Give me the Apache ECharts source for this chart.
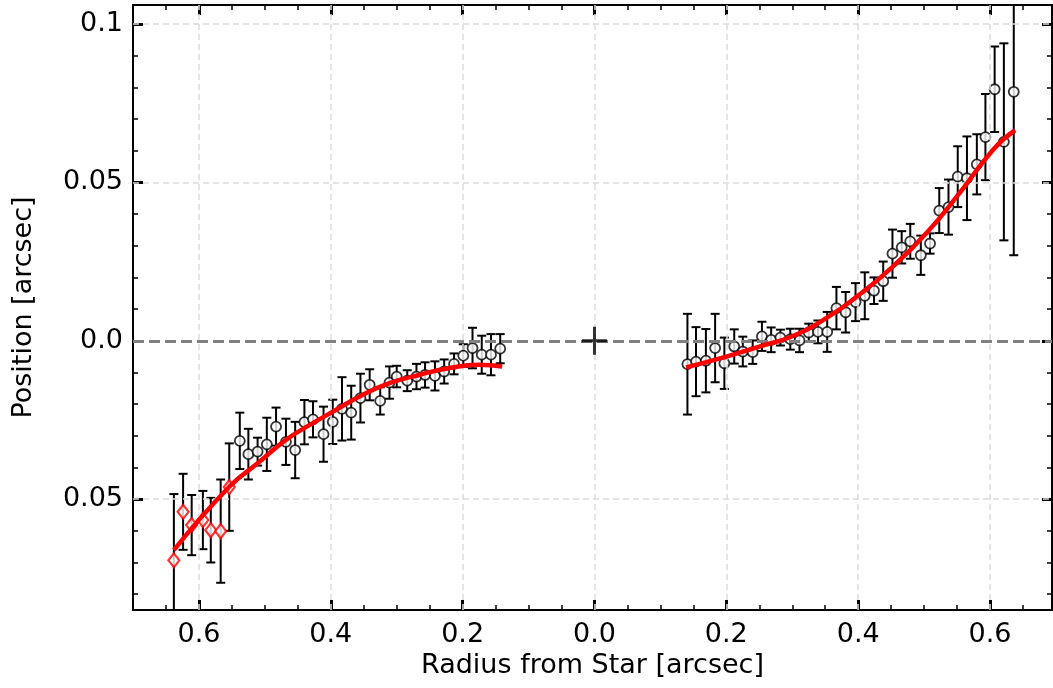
<!DOCTYPE html>
<html>
<head>
<meta charset="utf-8">
<script src="https://cdn.jsdelivr.net/npm/echarts@6/dist/echarts.min.js"></script>
<style>
  html, body { margin: 0; padding: 0; background: #fff; }
  #chart { width: 1053px; height: 688px; }
</style>
</head>
<body>
<div id="chart"></div>
<script>
// 左侧（负半轴）红色菱形点
var leftRedX = [-0.638, -0.624, -0.611, -0.594, -0.582, -0.567, -0.554];
var leftRedY = [-0.0693, -0.0540, -0.0582, -0.0566, -0.0598, -0.0601, -0.0462];
var leftRedErr = [0.0209, 0.0120, 0.0095, 0.0092, 0.0102, 0.0163, 0.0138];

// 左侧黑色圆点
var leftX = [-0.538, -0.525, -0.511, -0.497, -0.483, -0.468, -0.454, -0.440, -0.427, -0.411,
  -0.397, -0.383, -0.369, -0.355, -0.341, -0.325, -0.311, -0.300, -0.284, -0.270,
  -0.257, -0.242, -0.228, -0.213, -0.199, -0.185, -0.171, -0.157, -0.143];
var leftY = [-0.0316, -0.0358, -0.0350, -0.0327, -0.0271, -0.0319, -0.0345, -0.0257, -0.0248, -0.0295,
  -0.0256, -0.0215, -0.0227, -0.0181, -0.0139, -0.0190, -0.0132, -0.0113, -0.0126, -0.0113,
  -0.0108, -0.0111, -0.0097, -0.0073, -0.0047, -0.0023, -0.0044, -0.0044, -0.0025];
var leftErr = [0.0089, 0.0080, 0.0044, 0.0084, 0.0060, 0.0073, 0.0089, 0.0070, 0.0057, 0.0087,
  0.0070, 0.0100, 0.0085, 0.0077, 0.0049, 0.0043, 0.0051, 0.0034, 0.0033, 0.0040,
  0.0040, 0.0046, 0.0038, 0.0033, 0.0036, 0.0064, 0.0060, 0.0065, 0.0046];

// 右侧黑色圆点
var rightX = [0.141, 0.154, 0.169, 0.183, 0.197, 0.212, 0.225, 0.240, 0.254, 0.268,
  0.282, 0.297, 0.311, 0.325, 0.339, 0.353, 0.367, 0.381, 0.396, 0.410,
  0.424, 0.438, 0.452, 0.466, 0.479, 0.495, 0.509, 0.523, 0.537, 0.551,
  0.565, 0.580, 0.593, 0.607, 0.621, 0.636];
var rightY = [-0.0074, -0.0066, -0.0063, -0.0023, -0.0071, -0.0018, -0.0034, -0.0036, 0.0014, 0.0003,
  0.0010, 0.0005, 0.0001, 0.0026, 0.0028, 0.0028, 0.0103, 0.0090, 0.0122, 0.0142,
  0.0158, 0.0188, 0.0275, 0.0295, 0.0314, 0.0270, 0.0307, 0.0411, 0.0422, 0.0518,
  0.0513, 0.0557, 0.0643, 0.0794, 0.0628, 0.0786];
var rightErr = [0.0159, 0.0109, 0.0100, 0.0108, 0.0081, 0.0054, 0.0047, 0.0037, 0.0046, 0.0039,
  0.0025, 0.0033, 0.0037, 0.0028, 0.0036, 0.0063, 0.0067, 0.0064, 0.0060, 0.0074,
  0.0042, 0.0062, 0.0076, 0.0051, 0.0055, 0.0062, 0.0032, 0.0071, 0.0087, 0.0096,
  0.0132, 0.0095, 0.0136, 0.0135, 0.0311, 0.0516];

// 拟合曲线
var leftFitX = [-0.638, -0.554, -0.511, -0.468, -0.428, -0.397, -0.352, -0.311, -0.266, -0.220, -0.175, -0.140];
var leftFitY = [-0.0661, -0.0461, -0.0387, -0.0313, -0.0261, -0.0224, -0.0171, -0.0134, -0.0108, -0.0086, -0.0076, -0.0081];
var rightFitX = [0.139, 0.200, 0.251, 0.301, 0.352, 0.402, 0.453, 0.504, 0.554, 0.605, 0.638];
var rightFitY = [-0.0084, -0.0050, -0.0018, 0.0015, 0.0072, 0.0146, 0.0235, 0.0341, 0.0467, 0.0604, 0.0665];

// 刻度
var xMajor = [-0.6, -0.4, -0.2, 0, 0.2, 0.4, 0.6];
var xMinor = [-0.65, -0.55, -0.5, -0.45, -0.35, -0.3, -0.25, -0.15, -0.1, -0.05,
  0.05, 0.1, 0.15, 0.25, 0.3, 0.35, 0.45, 0.5, 0.55, 0.65];
var yMajor = [-0.05, 0, 0.05, 0.1];
var yMinor = [-0.08, -0.07, -0.06, -0.04, -0.03, -0.02, -0.01, 0.01, 0.02, 0.03, 0.04,
  0.06, 0.07, 0.08, 0.09];

var X_MIN = -0.7, X_MAX = 0.694, Y_MIN = -0.085, Y_MAX = 0.106;
var FONT = 'DejaVu Sans';
var FS = 27;

function zip(xs, ys) {
  var out = [];
  for (var i = 0; i < xs.length; i++) out.push([xs[i], ys[i]]);
  return out;
}
function zip3(xs, ys, es) {
  var out = [];
  for (var i = 0; i < xs.length; i++) out.push([xs[i], ys[i], es[i]]);
  return out;
}

var errData = zip3(leftRedX, leftRedY, leftRedErr)
  .concat(zip3(leftX, leftY, leftErr))
  .concat(zip3(rightX, rightY, rightErr));

function xAxisDef(pos, ticks, len, w, showLabel, name) {
  return {
    type: 'value', position: pos, min: X_MIN, max: X_MAX,
    name: name || '', nameLocation: 'middle', nameGap: 39,
    nameTextStyle: { fontFamily: FONT, fontSize: FS, color: '#000' },
    axisLine: { show: !!showLabel || pos === 'top', onZero: false, lineStyle: { color: '#000', width: 2 } },
    axisTick: { show: true, inside: true, length: len, customValues: ticks, lineStyle: { color: '#000', width: w } },
    axisLabel: {
      show: !!showLabel, customValues: ticks, margin: 11,
      fontFamily: FONT, fontSize: FS, color: '#000',
      formatter: function (v) { return Math.abs(v).toFixed(1); }
    },
    splitLine: { show: false }
  };
}
function yAxisDef(pos, ticks, len, w, showLabel, name) {
  return {
    type: 'value', position: pos, min: Y_MIN, max: Y_MAX,
    name: name || '', nameLocation: 'middle', nameGap: 96,
    nameTextStyle: { fontFamily: FONT, fontSize: FS, color: '#000' },
    axisLine: { show: !!showLabel || pos === 'right', onZero: false, lineStyle: { color: '#000', width: 2 } },
    axisTick: { show: true, inside: true, length: len, customValues: ticks, lineStyle: { color: '#000', width: w } },
    axisLabel: {
      show: !!showLabel, customValues: ticks, margin: 10,
      fontFamily: FONT, fontSize: FS, color: '#000',
      formatter: function (v) { return v === 0 ? '0.0' : String(Math.abs(v)); }
    },
    splitLine: { show: false }
  };
}

var gridLines = [];
xMajor.forEach(function (v) { gridLines.push({ xAxis: v }); });
yMajor.forEach(function (v) { if (v !== 0) gridLines.push({ yAxis: v }); });

var chart = echarts.init(document.getElementById('chart'));
chart.setOption({
  animation: false,
  backgroundColor: '#fff',
  grid: { left: 133, right: 1, top: 5, bottom: 78, containLabel: false },
  xAxis: [
    xAxisDef('bottom', xMajor, 10, 3, true, 'Radius from Star [arcsec]'),
    xAxisDef('top', xMajor, 10, 3, false),
    xAxisDef('bottom', xMinor, 5, 1.5, false),
    xAxisDef('top', xMinor, 5, 1.5, false)
  ],
  yAxis: [
    yAxisDef('left', yMajor, 10, 3, true, 'Position [arcsec]'),
    yAxisDef('right', yMajor, 10, 3, false),
    yAxisDef('left', yMinor, 5, 1.5, false),
    yAxisDef('right', yMinor, 5, 1.5, false)
  ],
  series: [
    {
      // 网格虚线
      type: 'line', data: [], z: 1, silent: true,
      markLine: {
        silent: true, symbol: 'none', label: { show: false },
        lineStyle: { color: '#dcdcdc', width: 1.5, type: [6, 4] },
        data: gridLines
      }
    },
    {
      // y=0 灰色虚线
      type: 'line', data: [], z: 2, silent: true,
      markLine: {
        silent: true, symbol: 'none', label: { show: false },
        lineStyle: { color: '#808080', width: 3, type: [11, 5] },
        data: [{ yAxis: 0 }]
      }
    },
    {
      // 误差棒
      type: 'custom', z: 3, clip: true, silent: true,
      data: errData,
      renderItem: function (params, api) {
        var x = api.value(0), y = api.value(1), e = api.value(2);
        var top = api.coord([x, y + e]);
        var bot = api.coord([x, y - e]);
        var hw = 4.5;
        var st = { stroke: '#000', lineWidth: 2 };
        return {
          type: 'group',
          children: [
            { type: 'line', shape: { x1: top[0], y1: top[1], x2: bot[0], y2: bot[1] }, style: st },
            { type: 'line', shape: { x1: top[0] - hw, y1: top[1], x2: top[0] + hw, y2: top[1] }, style: st },
            { type: 'line', shape: { x1: bot[0] - hw, y1: bot[1], x2: bot[0] + hw, y2: bot[1] }, style: st }
          ]
        };
      }
    },
    {
      type: 'scatter', z: 4, silent: true,
      data: zip(leftX, leftY).concat(zip(rightX, rightY)),
      symbol: 'circle', symbolSize: 10,
      itemStyle: { color: '#fff', borderColor: '#000', borderWidth: 1.8 }
    },
    {
      type: 'scatter', z: 4, silent: true,
      data: zip(leftRedX, leftRedY),
      symbol: 'diamond', symbolSize: [11, 14],
      itemStyle: { color: '#fff', borderColor: '#ff0000', borderWidth: 2.2 }
    },
    {
      type: 'line', z: 5, silent: true, smooth: true,
      data: zip(leftFitX, leftFitY), showSymbol: false,
      lineStyle: { color: '#ff0000', width: 4.5 }
    },
    {
      type: 'line', z: 5, silent: true, smooth: true,
      data: zip(rightFitX, rightFitY), showSymbol: false,
      lineStyle: { color: '#ff0000', width: 4.5 }
    },
    {
      // 恒星位置
      type: 'scatter', z: 6, silent: true,
      data: [[0, 0]],
      symbol: 'path://M11,0h3v28h-3zM0,12.5h25v3h-25z', symbolSize: [25, 28],
      itemStyle: { color: '#000' }
    }
  ]
});
</script>
</body>
</html>
